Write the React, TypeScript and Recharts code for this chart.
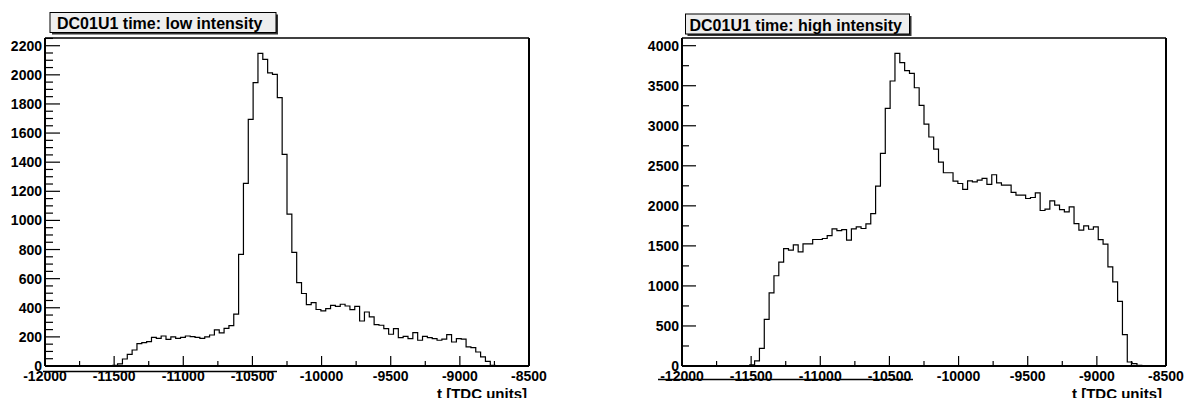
import { LineChart, Line, XAxis, YAxis } from 'recharts';

// binning of the TDC histograms: 100 bins from -12000 to -8500
const BIN_LO = -12000;
const BIN_HI = -8500;
const BIN_WIDTH = 35;

// counts per bin, low intensity run
const lowCounts = [
  0, 0, 0, 0, 0, 0, 0, 0, 0, 0,
  0, 0, 0, 0, 5, 15, 48, 80, 110, 154,
  161, 168, 197, 190, 206, 183, 200, 190, 197, 206,
  202, 197, 190, 200, 213, 248, 227, 258, 277, 356,
  767, 1254, 1694, 1946, 2148, 2106, 2014, 2003, 1843, 1453,
  1043, 780, 573, 498, 422, 436, 388, 378, 394, 417,
  410, 424, 412, 387, 410, 309, 371, 337, 284, 280,
  257, 218, 257, 195, 204, 188, 229, 177, 204, 195,
  188, 177, 184, 216, 165, 188, 184, 131, 126, 96,
  62, 32, 5, 0, 0, 0, 0, 0, 0, 0,
];

// counts per bin, high intensity run
const highCounts = [
  0, 0, 0, 0, 0, 0, 0, 0, 0, 0,
  0, 0, 0, 0, 15, 65, 220, 582, 912, 1127,
  1298, 1467, 1446, 1513, 1425, 1525, 1525, 1580, 1580, 1592,
  1627, 1713, 1690, 1702, 1571, 1713, 1738, 1717, 1775, 1904,
  2246, 2655, 3217, 3559, 3905, 3788, 3688, 3654, 3475, 3255,
  3020, 2860, 2709, 2545, 2413, 2413, 2309, 2279, 2205, 2313,
  2300, 2321, 2342, 2267, 2388, 2288, 2258, 2258, 2167, 2133,
  2133, 2092, 2104, 2163, 1942, 1958, 2063, 2008, 1954, 1925,
  1988, 1779, 1696, 1750, 1708, 1738, 1579, 1521, 1238, 1050,
  808, 392, 50, 30, 8, 0, 0, 0, 0, 0,
];

const xMajorTicks = [-12000, -11500, -11000, -10500, -10000, -9500, -9000, -8500];
const xMinorTicks = [-11750, -11250, -10750, -10250, -9750, -9250, -8750];
const lowYMajor = [0, 200, 400, 600, 800, 1000, 1200, 1400, 1600, 1800, 2000, 2200];
const highYMajor = [0, 500, 1000, 1500, 2000, 2500, 3000, 3500, 4000];

const FONT = '"Liberation Sans", Arial, Helvetica, sans-serif';

function minorBetween(major: number[], step: number, top: number) {
  const out: number[] = [];
  for (let v = step; v < top; v += step) {
    if (!major.includes(v)) out.push(v);
  }
  return out;
}

function toSteps(counts: number[]) {
  const rows = counts.map((n, i) => ({ t: BIN_LO + i * BIN_WIDTH, n }));
  rows.push({ t: BIN_HI, n: counts[counts.length - 1] });
  return rows;
}

type PanelProps = {
  counts: number[];
  yMax: number;
  yMajor: number[];
  yMinor: number[];
  yMajorLen: number;
  yMinorLen: number;
  width: number;
  margin: { top: number; right: number; bottom: number; left: number };
};

function HistPanel({ counts, yMax, yMajor, yMinor, yMajorLen, yMinorLen, width, margin }: PanelProps) {
  const data = toSteps(counts);

  const renderXTick = (props: any) => {
    const { x, y, payload } = props;
    const major = xMajorTicks.includes(payload.value);
    return (
      <g>
        <line x1={x} x2={x} y1={y} y2={y - (major ? 10 : 5)} stroke="#000" strokeWidth={1.2} />
        {major && (
          <text x={x} y={y + 15} textAnchor="middle" fontSize={14} fontWeight="bold" fontFamily={FONT} fill="#000">
            {payload.value}
          </text>
        )}
      </g>
    );
  };

  const renderYTick = (props: any) => {
    const { x, y, payload } = props;
    const major = yMajor.includes(payload.value);
    return (
      <g>
        <line x1={x} x2={x + (major ? yMajorLen : yMinorLen)} y1={y} y2={y} stroke="#000" strokeWidth={1.2} />
        {major && (
          <text x={x - 3} y={y + 5} textAnchor="end" fontSize={14} fontWeight="bold" fontFamily={FONT} fill="#000">
            {payload.value}
          </text>
        )}
      </g>
    );
  };

  return (
    <LineChart width={width} height={398} data={data} margin={margin}>
      <XAxis
        xAxisId="bottom"
        dataKey="t"
        type="number"
        domain={[BIN_LO, BIN_HI]}
        ticks={[...xMajorTicks, ...xMinorTicks]}
        interval={0}
        height={1}
        tickSize={0}
        tickMargin={0}
        tickLine={false}
        tick={renderXTick}
        axisLine={{ stroke: '#000', strokeWidth: 2 }}
        allowDataOverflow
      />
      <XAxis
        xAxisId="top"
        orientation="top"
        dataKey="t"
        type="number"
        domain={[BIN_LO, BIN_HI]}
        height={1}
        tick={false}
        tickLine={false}
        axisLine={{ stroke: '#000', strokeWidth: 1.5 }}
      />
      <YAxis
        yAxisId="left"
        type="number"
        domain={[0, yMax]}
        ticks={[...yMajor, ...yMinor]}
        interval={0}
        width={1}
        tickSize={0}
        tickMargin={0}
        tickLine={false}
        tick={renderYTick}
        axisLine={{ stroke: '#000', strokeWidth: 2 }}
        allowDataOverflow
      />
      <YAxis
        yAxisId="right"
        orientation="right"
        type="number"
        domain={[0, yMax]}
        width={1}
        tick={false}
        tickLine={false}
        axisLine={{ stroke: '#000', strokeWidth: 2 }}
      />
      <Line
        xAxisId="bottom"
        yAxisId="left"
        dataKey="n"
        type="stepAfter"
        stroke="#000"
        strokeWidth={1.2}
        dot={false}
        activeDot={false}
        isAnimationActive={false}
      />
    </LineChart>
  );
}

function TitleBox({ x, y, w, h, pad, text }: { x: number; y: number; w: number; h: number; pad: number; text: string }) {
  return (
    <g>
      <rect x={x + 2} y={y + 2} width={w} height={h} fill="#333" />
      <rect x={x} y={y} width={w} height={h} fill="#eeeeee" stroke="#000" strokeWidth={1} />
      <text x={x + pad} y={y + 16.5} fontSize={16} fontWeight="bold" fontFamily={FONT} fill="#000">
        {text}
      </text>
    </g>
  );
}

export default function App() {
  return (
    <div style={{ position: 'absolute', left: 0, top: 0, width: 1185, height: 398, background: '#fff', overflow: 'hidden' }}>
      <div style={{ position: 'absolute', left: 0, top: 0 }}>
        <HistPanel
          counts={lowCounts}
          yMax={2253}
          yMajor={lowYMajor}
          yMinor={minorBetween(lowYMajor, 50, 2253)}
          yMajorLen={15}
          yMinorLen={8}
          width={592}
          margin={{ top: 37, right: 62, bottom: 31, left: 44 }}
        />
      </div>
      <div style={{ position: 'absolute', left: 592, top: 0 }}>
        <HistPanel
          counts={highCounts}
          yMax={4096}
          yMajor={highYMajor}
          yMinor={minorBetween(highYMajor, 250, 4096)}
          yMajorLen={14}
          yMinorLen={7}
          width={593}
          margin={{ top: 37, right: 18, bottom: 31, left: 89 }}
        />
      </div>
      <svg width={1185} height={398} style={{ position: 'absolute', left: 0, top: 0, pointerEvents: 'none' }}>
        <TitleBox x={50} y={12.5} w={226} h={20} pad={7} text="DC01U1 time: low intensity" />
        <TitleBox x={685.5} y={14} w={224} h={20} pad={4} text="DC01U1 time: high intensity" />
        <line x1={43} x2={277} y1={371.5} y2={371.5} stroke="#000" strokeWidth={1.5} />
        <line x1={658} x2={913} y1={379.5} y2={379.5} stroke="#000" strokeWidth={1.5} />
        <text x={527} y={399} textAnchor="end" fontSize={15} fontWeight="bold" fontFamily={FONT} fill="#000">
          t [TDC units]
        </text>
        <text x={1162} y={399} textAnchor="end" fontSize={15} fontWeight="bold" fontFamily={FONT} fill="#000">
          t [TDC units]
        </text>
      </svg>
    </div>
  );
}
